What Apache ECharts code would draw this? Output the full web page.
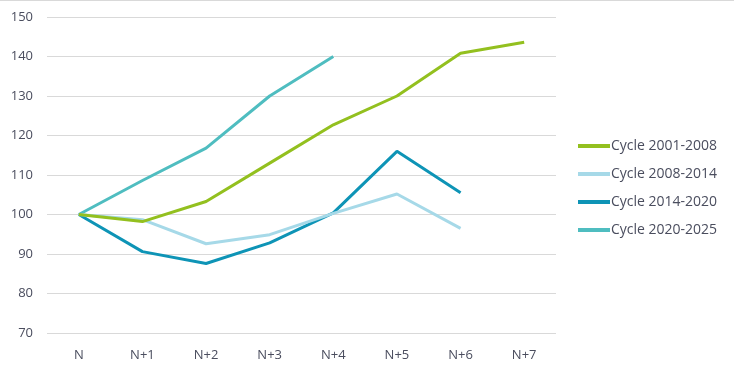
<!DOCTYPE html>
<html><head><meta charset="utf-8">
<script src="https://cdn.jsdelivr.net/npm/echarts@6/dist/echarts.min.js"></script>
<style>html,body{margin:0;padding:0;background:#fff}#c{width:734px;height:373px}</style>
</head><body><div id="c"></div>
<script>
const categories = ['N','N+1','N+2','N+3','N+4','N+5','N+6','N+7'];
const seriesNames = ['Cycle 2001-2008','Cycle 2008-2014','Cycle 2014-2020','Cycle 2020-2025'];
const cycle2001 = [100, 98.2, 103.3, 113, 122.7, 130, 140.8, 143.6];
const cycle2008 = [100, 98.7, 92.6, 94.9, 100.3, 105.2, 96.5, null];
const cycle2014 = [100, 90.6, 87.6, 92.8, 100.4, 116.0, 105.5, null];
const cycle2020 = [100, 108.6, 116.8, 130.0, 140.0, null, null, null];
const colors = ['#93c01f', '#a6d9e8', '#0e94b6', '#4fbdc0'];
const values = [cycle2001, cycle2008, cycle2014, cycle2020];

const chart = echarts.init(document.getElementById('c'));
const txt = '#4a4d5e';
chart.setOption({
  animation: false,
  graphic: [{type:'line', shape:{x1:0,y1:0.5,x2:734,y2:0.5}, style:{stroke:'#d9d9d9', lineWidth:1}}],
  grid: {left: 47, right: 178, top: 17, bottom: 40},
  legend: {
    orient: 'vertical', left: 573, top: 134, itemGap: 14,
    icon: 'rect', itemWidth: 32, itemHeight: 4,
    textStyle: {color: txt, fontSize: 14, fontFamily: 'Open Sans', padding: [0,0,0,-4]},
    data: seriesNames
  },
  xAxis: {
    type: 'category', data: categories, boundaryGap: true,
    axisLine: {show: false}, axisTick: {show: false},
    axisLabel: {color: txt, fontSize: 13, fontFamily: 'Open Sans', margin: 16}
  },
  yAxis: {
    type: 'value', min: 70, max: 150, interval: 10,
    axisLine: {show: false}, axisTick: {show: false},
    axisLabel: {color: txt, fontSize: 13, fontFamily: 'Open Sans', margin: 14},
    splitLine: {lineStyle: {color: '#d9d9d9', width: 1}}
  },
  series: seriesNames.map((n, i) => ({
    name: n, type: 'line', data: values[i], showSymbol: false, symbol: 'none',
    color: colors[i], lineStyle: {width: 3, color: colors[i]}, z: 10 - i
  }))
});
</script></body></html>
